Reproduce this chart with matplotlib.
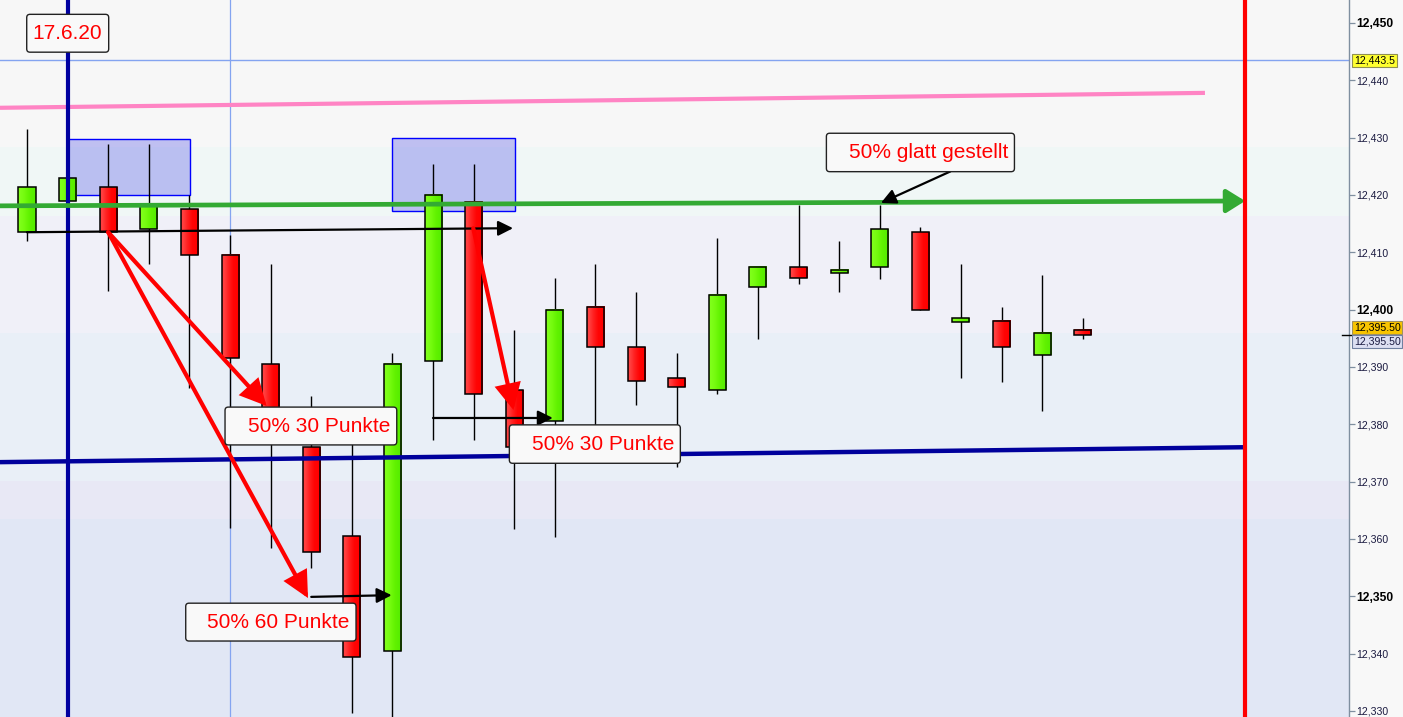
import numpy as np
import matplotlib
matplotlib.use('Agg')
import matplotlib.pyplot as plt
from matplotlib.patches import Rectangle, FancyBboxPatch, FancyArrowPatch
from matplotlib.transforms import blended_transform_factory

plt.rcParams['font.family'] = ['Liberation Sans', 'DejaVu Sans']

# ---------------- data ----------------
candle_index = list(range(27))
opens  = [12413.5, 12418.9, 12421.3, 12414.0, 12417.5, 12409.5, 12390.5, 12376.0, 12360.5,
          12340.4, 12391.0, 12418.8, 12385.9, 12380.5, 12400.4, 12393.4, 12388.0, 12385.9,
          12403.9, 12407.4, 12406.5, 12407.4, 12413.5, 12398.0, 12398.0, 12392.0, 12396.4]
highs  = [12431.5, 12423.2, 12428.9, 12428.9, 12420.0, 12413.0, 12408.0, 12384.9, 12378.0,
          12392.4, 12425.4, 12425.4, 12396.5, 12405.6, 12408.0, 12403.1, 12392.4, 12412.5,
          12407.4, 12418.3, 12412.0, 12418.3, 12414.4, 12408.0, 12400.5, 12406.0, 12398.5]
lows   = [12411.9, 12418.7, 12403.3, 12407.9, 12386.4, 12361.9, 12358.4, 12354.9, 12329.7,
          12329.0, 12377.3, 12377.3, 12361.8, 12360.4, 12378.0, 12383.4, 12372.5, 12385.3,
          12394.9, 12404.4, 12403.0, 12405.4, 12399.9, 12388.0, 12387.4, 12382.4, 12394.9]
closes = [12421.3, 12422.9, 12413.6, 12418.3, 12409.5, 12391.5, 12379.0, 12357.8, 12339.4,
          12390.5, 12420.0, 12385.3, 12376.0, 12399.9, 12393.4, 12387.5, 12386.5, 12402.6,
          12407.4, 12405.5, 12406.9, 12414.0, 12399.9, 12398.4, 12393.4, 12395.9, 12395.5]

y_ticks = list(range(12330, 12451, 10))
bold_ticks = [12450, 12400, 12350]
last_price = 12395.5
marker_price = 12443.5

band_edges = [12454.0, 12428.3, 12416.4, 12395.9, 12370.1, 12363.5, 12328.95]
band_colors = ['#f7f7f7', '#f0f7f6', '#f0f0f8', '#e9eff7', '#e8e8f5', '#e1e7f5']

# drawings (index, price)
pink_line = ([-0.665, 29.01], [12435.2, 12437.8])
green_line = ([-0.665, 30.0], [12418.1, 12418.95])
blue_line = ([-0.665, 30.0], [12373.4, 12376.0])
date_line_x = 1
thin_line_x = 5
end_line_x = 30

zones = [(1.01, 4.01, 12420.0, 12429.8), (8.99, 12.02, 12417.2, 12429.9)]

black_arrows = [((0.0, 12413.5), (11.97, 12414.2)),
                ((10.0, 12381.1), (12.95, 12381.1)),
                ((7.0, 12349.9), (8.98, 12350.2)),
                ((22.74, 12424.1), (21.03, 12418.6))]
red_arrows = [((2.0, 12413.5), (5.9, 12383.2)),
              ((2.0, 12413.5), (6.92, 12349.7)),
              ((10.99, 12414.2), (11.98, 12382.5))]

labels = ['17.6.20', '50% 30 Punkte', '50% 30 Punkte', '50% 60 Punkte', '50% glatt gestellt']
label_boxes = [(-0.007, 2.012, 12444.9, 12451.5),
               (4.877, 9.106, 12376.4, 12383.0),
               (11.879, 16.09, 12373.2, 12379.9),
               (3.909, 8.103, 12342.2, 12348.8),
               (19.687, 24.318, 12424.06, 12430.76)]

# ---------------- figure ----------------
W, H = 1403, 717
fig = plt.figure(figsize=(W / 100, H / 100), dpi=100, facecolor='#f8f8f8')
ax = fig.add_axes([0, 0, 1348.7 / W, 1])
xlim = (-0.665, 32.55)
ylim = (12328.95, 12454.0)

for k, c in enumerate(band_colors):
    ax.axhspan(band_edges[k + 1], band_edges[k], color=c, lw=0, zorder=0)

ax.axhline(marker_price, color='#84a4f0', lw=1.0, zorder=1)
ax.axvline(thin_line_x, color='#84a4f0', lw=0.9, zorder=1)

for x0, x1, y0, y1 in zones:
    ax.add_patch(Rectangle((x0, y0), x1 - x0, y1 - y0, fc=(0.25, 0.25, 0.9, 0.3),
                           ec='#0000ff', lw=1.0, zorder=1.5))

# candles
bw = 0.42
red_grad = np.array([[1.0, 0.25, 0.25], [1.0, 0.12, 0.12], [1.0, 0.02, 0.02], [1.0, 0.0, 0.0]])
green_grad = np.array([[0.50, 1.0, 0.10], [0.45, 0.98, 0.05], [0.38, 0.95, 0.0], [0.34, 0.93, 0.0]])
for i, o, h, l, c in zip(candle_index, opens, highs, lows, closes):
    ax.vlines(i, l, h, color='black', lw=1.0, zorder=2)
    lo, hi = min(o, c), max(o, c)
    if hi - lo < 0.55:
        mid = (hi + lo) / 2
        lo, hi = mid - 0.275, mid + 0.275
    grad = green_grad if c >= o else red_grad
    ax.imshow(grad[np.newaxis, :, :], extent=[i - bw / 2, i + bw / 2, lo, hi], aspect='auto',
              interpolation='bilinear', zorder=2.5)
    ax.add_patch(Rectangle((i - bw / 2, lo), bw, hi - lo, fill=False, ec='black', lw=1.1, zorder=2.6))

# lines
ax.plot(pink_line[0], pink_line[1], color='#ff84c4', lw=3.0, zorder=4, solid_capstyle='butt')
ax.plot(blue_line[0], blue_line[1], color='#00009c', lw=3.2, zorder=4, solid_capstyle='butt')
ax.axvline(date_line_x, color='#0000a0', lw=3.0, zorder=4)
ax.axvline(end_line_x, color='#ff0000', lw=3.0, zorder=4)
ax.add_patch(FancyArrowPatch((green_line[0][0], green_line[1][0]), (green_line[0][1], green_line[1][1]),
                             arrowstyle='-|>,head_length=0.8,head_width=0.5', mutation_scale=14,
                             color='#33aa33', lw=3.4, shrinkA=0, shrinkB=0, zorder=4.2))

for p0, p1 in black_arrows:
    ax.add_patch(FancyArrowPatch(p0, p1, arrowstyle='-|>,head_length=0.9,head_width=0.45',
                                 mutation_scale=10, color='black', lw=1.6, shrinkA=0, shrinkB=0, zorder=5))
for p0, p1 in red_arrows:
    ax.add_patch(FancyArrowPatch(p0, p1, arrowstyle='-|>,head_length=0.9,head_width=0.45',
                                 mutation_scale=16, color='#ff0000', lw=3.0, shrinkA=0, shrinkB=0,
                                 zorder=5, joinstyle='miter'))

# text boxes
asp = (1 / 5.733) / (1 / 40.6)
for txt, (x0, x1, y0, y1) in zip(labels, label_boxes):
    ax.add_patch(FancyBboxPatch((x0, y0), x1 - x0, y1 - y0,
                                boxstyle='round,pad=0,rounding_size=0.08', mutation_aspect=asp,
                                fc='#f9f9f9', ec='#222222', lw=1.0, zorder=6))
    ax.annotate(txt, xy=(x1, (y0 + y1) / 2), xytext=(-4.5, 0), textcoords='offset points',
                ha='right', va='center', fontsize=15, color='#ff0000', zorder=7)

ax.set_xlim(*xlim)
ax.set_ylim(*ylim)

# axis
for s in ['top', 'left', 'bottom']:
    ax.spines[s].set_visible(False)
ax.spines['right'].set_color('#7f8fa0')
ax.spines['right'].set_linewidth(1.0)
ax.set_xticks([])
ax.yaxis.tick_right()
ax.set_yticks(y_ticks)
ax.set_yticklabels([f'{v:,}' for v in y_ticks])
ax.tick_params(axis='y', direction='out', length=4, width=0.9, color='#7f8fa0',
               labelsize=7.6, labelcolor='#1a1a40', pad=1.5)
for v, lab in zip(y_ticks, ax.get_yticklabels()):
    if v in bold_ticks:
        lab.set_fontweight('bold')
        lab.set_fontsize(8.7)
        lab.set_color('black')

trans = blended_transform_factory(ax.transAxes, ax.transData)
xa = 1354 / 1348.7
ax.text(xa, marker_price, f'{marker_price:,.1f}', transform=trans, ha='left', va='center',
        fontsize=7.6, color='black', zorder=10, clip_on=False,
        bbox=dict(boxstyle='square,pad=0.15', fc='#ffff30', ec='#909050', lw=0.8))
ax.annotate(f'{last_price:,.2f}', xy=(xa, last_price), xycoords=trans, xytext=(0, 5.6),
            textcoords='offset points', ha='left', va='center', fontsize=7.6, color='black',
            annotation_clip=False, zorder=10,
            bbox=dict(boxstyle='square,pad=0.15', fc='#f8c400', ec='#a09060', lw=0.8))
ax.annotate(f'{last_price:,.2f}', xy=(xa, last_price), xycoords=trans, xytext=(0, -4.6),
            textcoords='offset points', ha='left', va='center', fontsize=7.6, color='#1a1a40',
            annotation_clip=False, zorder=10,
            bbox=dict(boxstyle='square,pad=0.15', fc='#dcdff2', ec='#7080a0', lw=0.8))
ax.plot([1342 / 1348.7, 1353 / 1348.7], [last_price, last_price], transform=trans,
        color='black', lw=1.0, clip_on=False, zorder=9)

fig.savefig('out.png', dpi=100, facecolor=fig.get_facecolor())
